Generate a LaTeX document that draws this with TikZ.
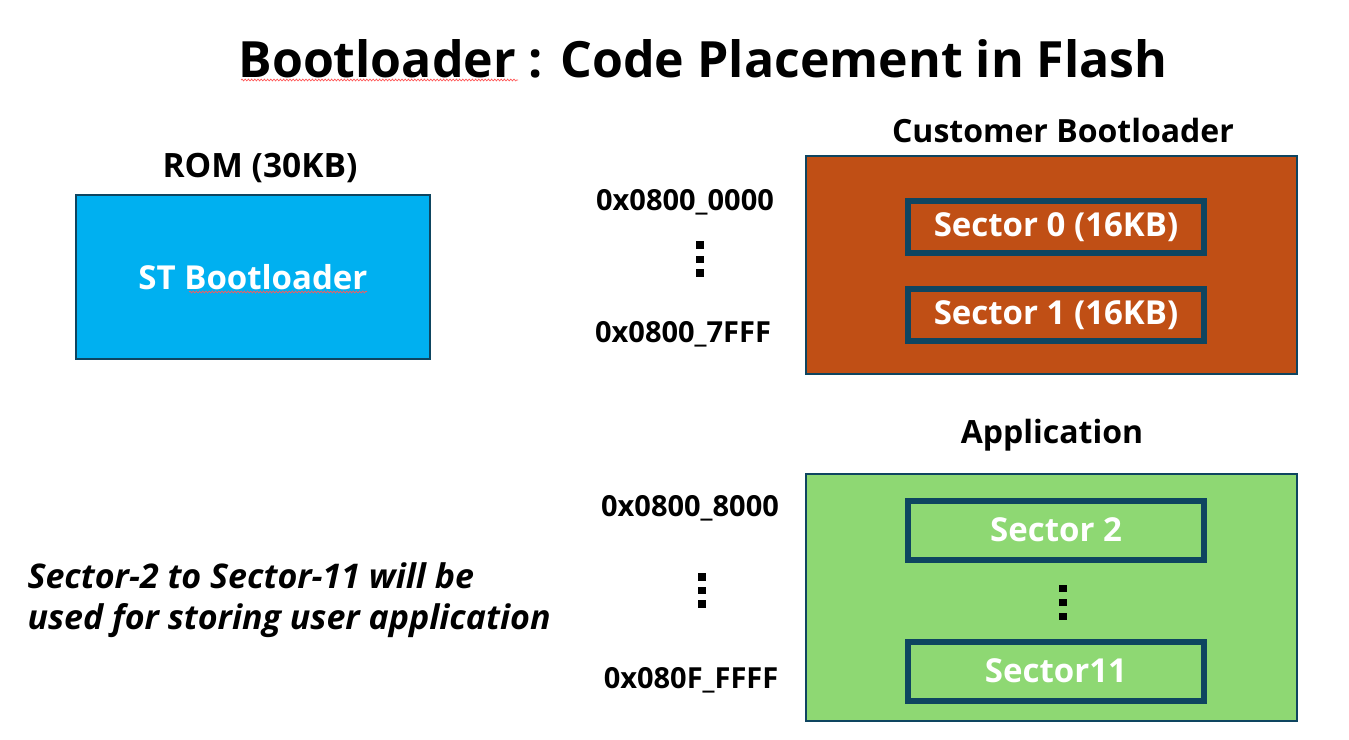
\documentclass[tikz,border=0pt]{standalone}
\usepackage{fontspec}
\setmainfont{Open Sans}
\usepackage{tikz}
\usetikzlibrary{positioning}
\usetikzlibrary{decorations.pathmorphing}

\definecolor{edgeblue}{HTML}{0E4560}
\definecolor{rombox}{HTML}{00B0F0}
\definecolor{bootbox}{HTML}{C04F15}
\definecolor{appbox}{HTML}{8ED873}

\newcommand{\fsz}[1]{\fontsize{#1}{#1}\selectfont\bfseries}

\begin{document}
\begin{tikzpicture}[x=1pt,y=-1pt,
    region/.style={draw=edgeblue,line width=2pt},
    sector/.style={draw=edgeblue,line width=6pt,minimum width=296pt,inner sep=0pt,
        text=white,font=\fsz{33}},
    heading/.style={anchor=base,font=\fsz{32}},
    addr/.style={anchor=base,font=\fsz{29}},
    note/.style={anchor=base west,font=\fontsize{34}{34}\selectfont\bfseries\itshape},
    squiggle/.style={red!65,line width=0.7pt,decorate,
        decoration={snake,amplitude=0.9pt,segment length=3.2pt}}]
        \useasboundingbox (0,0) rectangle (1349,739);

        % title
        \node[anchor=base,font=\fsz{50}] (title) at (703,77) {Bootloader : Code Placement in Flash};
        \draw[squiggle] (241,80) -- (518,80);

        % ROM
        \node[heading,font=\fsz{33.5}] (romlbl) at (260,177) {ROM (30KB)};
        \draw[region,fill=rombox] (76,195) rectangle (430,359);
        \node[anchor=base,text=white,font=\fsz{33}] (stboot) at (253,289) {ST Bootloader};
        \draw[squiggle] (189,292) -- (367,292);

        % customer bootloader
        \node[heading] (custlbl) at (1063,142) {Customer Bootloader};
        \draw[region,fill=bootbox] (806,156) rectangle (1297,374);
        \node[sector,minimum height=52pt] (sec0) at (1056,227) {Sector 0 (16KB)};
        \node[sector,minimum height=52pt] (sec1) at (1056,315) {Sector 1 (16KB)};

        \node[addr] (a0) at (685,210) {0x0800\_0000};
        \node[addr] (a1) at (683,342) {0x0800\_7FFF};

        % application
        \node[heading] (applbl) at (1052,443) {Application};
        \draw[region,fill=appbox] (806,474) rectangle (1297,721);
        \node[sector,minimum height=59pt] (sec2) at (1056,530) {Sector 2};
        \node[sector,minimum height=59pt] (sec11) at (1056,671) {Sector11};

        \node[addr] (a2) at (690,516) {0x0800\_8000};
        \node[addr] (a3) at (691,688) {0x080F\_FFFF};

        % dots
        \foreach \x/\y in {700/245, 700/259.5, 700/273,
                           702/577, 702/590.5, 702/604,
                           1063/588.5, 1063/602.5, 1063/616.5}
            \fill (\x-3.8,\y-3.6) rectangle (\x+3.8,\y+3.6);

        % note
        \node[note] (note1) at (24,588) {Sector-2 to Sector-11 will be};
        \node[note] (note2) at (24,629) {used for storing user application};
    \end{tikzpicture}
\end{document}
